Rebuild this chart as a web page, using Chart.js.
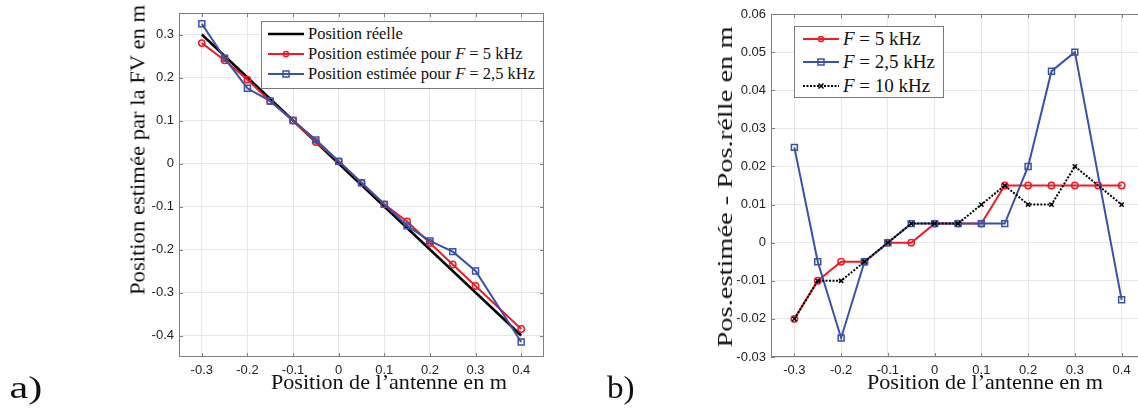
<!DOCTYPE html>
<html>
<head>
<meta charset="utf-8">
<script src="https://cdn.jsdelivr.net/npm/chart.js@4.4.0/dist/chart.umd.min.js"></script>
<style>
html,body{margin:0;padding:0;background:#fff;overflow:hidden;width:1138px;height:410px}
#wrap{position:relative;width:1138px;height:410px;overflow:hidden}
canvas{position:absolute;top:0}
.t{position:absolute;left:0;top:0;font-family:'Liberation Serif','DejaVu Serif',serif;color:#111;white-space:nowrap;transform-origin:0 0;line-height:1}
.leg{position:absolute;border:1px solid #7a7a7a;background:#fff;font-family:'Liberation Serif','DejaVu Serif',serif;color:#111;box-sizing:border-box}
.leg .row{position:absolute;left:0;display:flex;align-items:center;white-space:nowrap;transform:translateY(-50%)}
.leg svg{display:block}
</style>
</head>
<body>
<div id="wrap">
  <canvas id="cA" width="560" height="410" style="left:0"></canvas>
  <canvas id="cB" width="600" height="410" style="left:560px"></canvas>
</div>
<script>
// --- data ---
const xPos=[-0.3,-0.25,-0.2,-0.15,-0.1,-0.05,0,0.05,0.1,0.15,0.2,0.25,0.3,0.35,0.4];
const xPosNo35=[-0.3,-0.25,-0.2,-0.15,-0.1,-0.05,0,0.05,0.1,0.15,0.2,0.25,0.3,0.4];

// a) positions
const realPos=[0.3,0.25,0.2,0.15,0.1,0.05,0,-0.05,-0.1,-0.15,-0.2,-0.25,-0.3,-0.35,-0.4];
const estPos5k=[0.28,0.24,0.195,0.145,0.1,0.05,0.005,-0.045,-0.095,-0.135,-0.185,-0.235,-0.285,-0.385];
const estPos2k5=[0.325,0.245,0.175,0.145,0.1,0.055,0.005,-0.045,-0.095,-0.145,-0.18,-0.205,-0.25,-0.415];

// b) errors
const err5k=[-0.02,-0.01,-0.005,-0.005,0,0,0.005,0.005,0.005,0.015,0.015,0.015,0.015,0.015,0.015];
const err2k5=[0.025,-0.005,-0.025,-0.005,0,0.005,0.005,0.005,0.005,0.005,0.02,0.045,0.05,-0.015];
const err10k=[-0.02,-0.01,-0.01,-0.005,0,0.005,0.005,0.005,0.01,0.015,0.01,0.01,0.02,0.01];

const xTicks=[-0.3,-0.2,-0.1,0,0.1,0.2,0.3,0.4];
const xTickLabels=['-0.3','-0.2','-0.1','0','0.1','0.2','0.3','0.4'];
const yTicksA=[-0.4,-0.3,-0.2,-0.1,0,0.1,0.2,0.3];
const yTickLabelsA=['-0.4','-0.3','-0.2','-0.1','0','0.1','0.2','0.3'];
const yTicksB=[-0.03,-0.02,-0.01,0,0.01,0.02,0.03,0.04,0.05,0.06];
const yTickLabelsB=['-0.03','-0.02','-0.01','0','0.01','0.02','0.03','0.04','0.05','0.06'];

const labelsA=['Position réelle','Position estimée pour F = 5 kHz','Position estimée pour F = 2,5 kHz'];
const labelsB=['F = 5 kHz','F = 2,5 kHz','F = 10 kHz'];

const RED='#ee1c24', BLUE='#3852a6', BLACK='#000';

function pts(xs,ys){return xs.map((x,i)=>({x,y:ys[i]}));}

// frame + inward tick marks like matlab
const framePlugin={
  id:'frame',
  afterDatasetsDraw(chart){
    const {ctx,chartArea:a,scales}=chart;
    ctx.save();
    ctx.strokeStyle='#7f7f7f'; ctx.lineWidth=1;
    ctx.strokeRect(a.left+0.5,a.top+0.5,a.right-a.left-1,a.bottom-a.top-1);
    ctx.beginPath();
    scales.x.ticks.forEach(t=>{
      const px=Math.round(scales.x.getPixelForValue(t.value))+0.5;
      ctx.moveTo(px,a.top); ctx.lineTo(px,a.top+4);
      ctx.moveTo(px,a.bottom); ctx.lineTo(px,a.bottom-4);
    });
    scales.y.ticks.forEach(t=>{
      const py=Math.round(scales.y.getPixelForValue(t.value))+0.5;
      ctx.moveTo(a.left,py); ctx.lineTo(a.left+4,py);
      ctx.moveTo(a.right,py); ctx.lineTo(a.right-4,py);
    });
    ctx.stroke();
    ctx.restore();
  }
};

function axes(yMin,yMax,yTicks,yLabels,yW){
  const tickFont={family:"'Liberation Sans', Arial, sans-serif",size:13};
  return {
    x:{type:'linear',min:-0.35,max:0.45,
      afterBuildTicks:s=>{s.ticks=xTicks.map(v=>({value:v}));},
      afterFit:s=>{s.height=53;},
      grid:{color:'#e6e6e6',drawTicks:false},border:{display:false},
      ticks:{font:tickFont,color:'#222',padding:6,maxRotation:0,callback:(v,i)=>xTickLabels[i]}},
    y:{type:'linear',min:yMin,max:yMax,
      afterBuildTicks:s=>{s.ticks=yTicks.map(v=>({value:v}));},
      afterFit:s=>{s.width=yW;},
      grid:{color:'#e6e6e6',drawTicks:false},border:{display:false},
      ticks:{font:tickFont,color:'#222',padding:5,callback:(v,i)=>yLabels[i]}}
  };
}

const common={responsive:false,animation:false,events:[],
  plugins:{legend:{display:false},tooltip:{enabled:false}}};

const dsA=[
  {label:labelsA[0],data:pts(xPos,realPos),borderColor:BLACK,borderWidth:2.5,pointRadius:0,showLine:true,order:3},
  {label:labelsA[1],data:pts(xPosNo35,estPos5k),borderColor:RED,borderWidth:2,showLine:true,order:2,
    pointStyle:'circle',pointRadius:3.2,pointBorderWidth:1.5,pointBorderColor:RED,pointBackgroundColor:'rgba(255,255,255,0)'},
  {label:labelsA[2],data:pts(xPosNo35,estPos2k5),borderColor:BLUE,borderWidth:2,showLine:true,order:1,
    pointStyle:'rect',pointRadius:4.2,pointBorderWidth:1.5,pointBorderColor:BLUE,pointBackgroundColor:'rgba(255,255,255,0)'}
];
new Chart(document.getElementById('cA'),{type:'scatter',data:{datasets:dsA},
  options:Object.assign({},common,{layout:{padding:{left:0,top:13,right:16,bottom:0}},
    scales:axes(-0.45,0.35,yTicksA,yTickLabelsA,179)}),plugins:[framePlugin]});

const dsB=[
  {label:labelsB[0],data:pts(xPos,err5k),borderColor:RED,borderWidth:2,showLine:true,order:3,
    pointStyle:'circle',pointRadius:3.2,pointBorderWidth:1.5,pointBorderColor:RED,pointBackgroundColor:'rgba(255,255,255,0)'},
  {label:labelsB[1],data:pts(xPosNo35,err2k5),borderColor:BLUE,borderWidth:2,showLine:true,order:2,
    pointStyle:'rect',pointRadius:4.2,pointBorderWidth:1.5,pointBorderColor:BLUE,pointBackgroundColor:'rgba(255,255,255,0)'},
  {label:labelsB[2],data:pts(xPosNo35,err10k),borderColor:BLACK,borderWidth:2,borderDash:[2,1.5],showLine:true,order:1,
    pointStyle:'crossRot',pointRadius:3,pointBorderWidth:1.5,pointBorderColor:BLACK}
];
new Chart(document.getElementById('cB'),{type:'scatter',data:{datasets:dsB},
  options:Object.assign({},common,{layout:{padding:{left:0,top:14,right:15,bottom:0}},
    scales:axes(-0.03,0.06,yTicksB,yTickLabelsB,211)}),plugins:[framePlugin]});

// --- text overlays (axis titles, panel letters) ---
function addText(html,size,cx,cy,w,rot){
  const el=document.createElement('div');
  el.className='t'; el.style.fontSize=size+'px'; el.innerHTML=html;
  document.getElementById('wrap').appendChild(el);
  const nw=el.offsetWidth, nh=el.offsetHeight;
  const s=w?w/nw:1;
  el.style.transform=`translate(${cx}px,${cy}px) rotate(${rot||0}deg) scale(${s},1) translate(${-nw/2}px,${-nh/2}px)`;
}
addText('Position de l’antenne en m',21,389,382,236,0);
addText('Position estimée par la FV en m',21,138,150,290,-90);
addText('Position de l’antenne en m',21,985,382,236,0);
addText('Pos.estimée - Pos.rélle en m',22,725,187,321,-90);
addText('a)',32,26,387,33,0);
addText('b)',32,621,387,28,0);

// --- legends ---
function sample(ds){
  const w=36,h=12;
  let s=`<svg width="${w}" height="${h}"><line x1="0" y1="6" x2="${w}" y2="6" stroke="${ds.borderColor}" stroke-width="${ds.borderWidth}"${ds.borderDash?` stroke-dasharray="${ds.borderDash.join(',')}"`:''}/>`;
  if(ds.pointStyle==='circle') s+=`<circle cx="18" cy="6" r="2.6" fill="none" stroke="${ds.borderColor}" stroke-width="1.5"/>`;
  if(ds.pointStyle==='rect') s+=`<rect x="15" y="3" width="6" height="6" fill="none" stroke="${ds.borderColor}" stroke-width="1.5"/>`;
  if(ds.pointStyle==='crossRot') s+=`<path d="M15.5 3.5L20.5 8.5M20.5 3.5L15.5 8.5" stroke="${ds.borderColor}" stroke-width="1.5"/>`;
  return s+'</svg>';
}
function legend(dsets,box,rows,size,sx,gap){
  const el=document.createElement('div');
  el.className='leg';
  Object.assign(el.style,{left:box[0]+'px',top:box[1]+'px',width:box[2]+'px',height:box[3]+'px',fontSize:size+'px'});
  dsets.forEach((ds,i)=>{
    const r=document.createElement('div');
    r.className='row'; r.style.top=rows[i]+'px'; r.style.left=sx+'px';
    r.innerHTML=sample(ds)+`<span style="margin-left:${gap}px">${ds.label.replace(/\bF\b/,'<i>F</i>')}</span>`;
    el.appendChild(r);
  });
  document.getElementById('wrap').appendChild(el);
}
legend(dsA,[261,21,283,68],[12,32,52],16.5,6,4);
legend(dsB,[794,26,150,72],[12,35,59],19,8,4);
</script>
</body>
</html>
